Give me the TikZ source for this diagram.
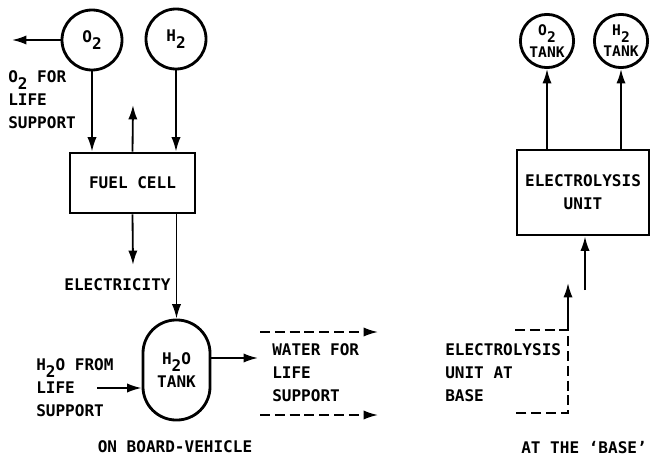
\documentclass[tikz,border=0pt]{standalone}
\usepackage{fontspec}
\setmainfont{DejaVu Sans Mono}
\usetikzlibrary{positioning,arrows.meta,calc}
\newcommand{\low}[1]{\raisebox{-0.8ex}{#1}}

\begin{document}
\begin{tikzpicture}[x=0.025cm, y=-0.025cm,
  every node/.style={font=\fontsize{11.4}{16.3}\selectfont\bfseries},
  box/.style={draw, line width=2pt, align=center, minimum width=3.125cm, minimum height=1.5cm},
  gas/.style={draw, circle, line width=2pt, minimum size=1.5cm, inner sep=0pt, align=center},
  smallgas/.style={gas, minimum size=1.33cm, font=\fontsize{10.4}{7.5}\selectfont\bfseries},
  vessel/.style={draw, line width=2pt, rounded corners=0.83cm, align=center, minimum width=1.675cm, minimum height=2.5cm},
  arrow/.style={-{Latex[length=3.6mm,width=2.3mm]}, line width=1.3pt},
  dasharrow/.style={arrow, dash pattern=on 0.25cm off 0.12cm},
  note/.style={align=left, anchor=west, inner sep=0pt}
]
\useasboundingbox (0,0) rectangle (650,460);

% on board the vehicle
\node[gas] (o2) at (92,40) {O\low{2}};
\node[gas] (h2) at (176,39) {H\low{2}};
\node[box] (fuel) at (132.5,183) {FUEL CELL};
\node[vessel] (tank) at (176.5,370) {H\low{2}O\\TANK};

\coordinate (o2out) at (12,40);
\coordinate (heat) at (133,105);
\coordinate (elec) at (133,265);
\coordinate (win) at (97,388);
\coordinate (wout) at (258,358);
\coordinate (d1s) at (260,332);
\coordinate (d1e) at (378,332);
\coordinate (d2s) at (260,415);
\coordinate (d2e) at (378,415);

\draw[arrow] (o2.west) -- (o2out);
\draw[arrow] (o2.south) -- (o2.south |- fuel.north);
\draw[arrow] (h2.south) -- (h2.south |- fuel.north);
\draw[arrow] (fuel.north) -- (heat);
\draw[arrow] (fuel.south) -- (elec);
\draw[arrow] (tank.north |- fuel.south) -- (tank.north);
\draw[arrow] (win) -- (win -| tank.west);
\draw[arrow] (wout -| tank.east) -- (wout);
\draw[dasharrow] (d1s) -- (d1e);
\draw[dasharrow] (d2s) -- (d2e);

\node[note] (o2life) at (8,100) {O\low{2} FOR\\LIFE\\SUPPORT};
\node (electxt) at (117.5,285) {ELECTRICITY};
\node[note] (h2olife) at (36,388) {H\low{2}O FROM\\LIFE\\SUPPORT};
\node[note] (water) at (272,373) {WATER FOR\\LIFE\\SUPPORT};
\node (vehicle) at (175,447) {ON BOARD-VEHICLE};

% at the base
\node[smallgas] (o2t) at (547,41) {O\low{2}\\[2pt]TANK};
\node[smallgas] (h2t) at (621,41) {H\low{2}\\[2pt]TANK};
\node[box, minimum width=3.3cm, minimum height=2.125cm] (elu) at (583,192.5) {ELECTROLYSIS\\UNIT};

\coordinate (power) at (585,290);
\coordinate (b1) at (515,330);
\coordinate (b2) at (568,330);
\coordinate (b3) at (568,413);
\coordinate (b4) at (515,413);
\coordinate (btip) at (568,283);

\draw[arrow] (elu.north -| o2t.south) -- (o2t.south);
\draw[arrow] (elu.north -| h2t.south) -- (h2t.south);
\draw[arrow] (power) -- (power |- elu.south);
\draw[arrow] (b2) -- (btip);
\draw[line width=1.3pt, dash pattern=on 0.25cm off 0.12cm] (b1) -- (b2) -- (b3) -- (b4);

\node[note] (eltxt) at (445,373) {ELECTROLYSIS\\UNIT AT\\BASE};
\node (base) at (584,448) {AT THE ‘BASE’};
\end{tikzpicture}
\end{document}
